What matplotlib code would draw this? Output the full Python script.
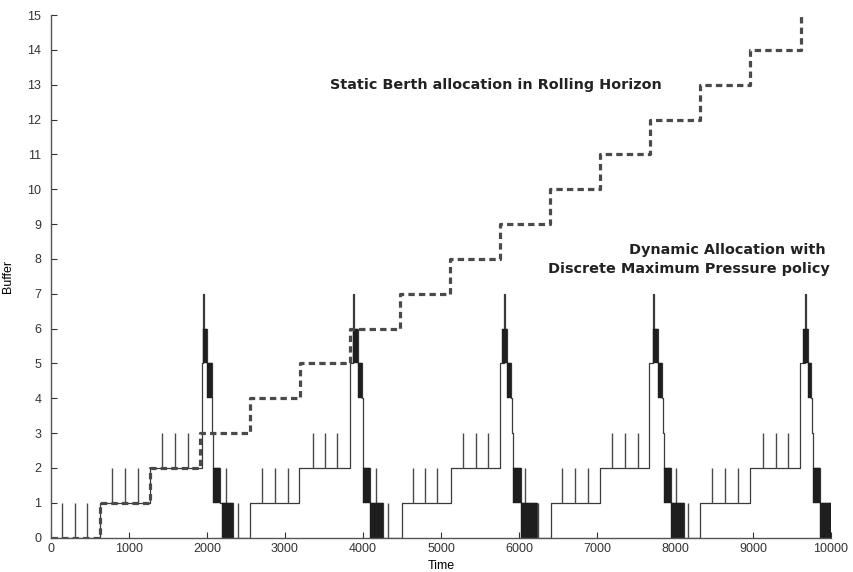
import matplotlib
matplotlib.use("Agg")
import matplotlib.pyplot as plt

# static berth allocation (rolling horizon): step times and buffer levels
static_t = [0, 628, 1269, 1910, 2551, 3192, 3833, 4474, 5122, 5756,
            6397, 7038, 7685, 8325, 8962, 9615]
static_v = [0, 1, 2, 3, 4, 5, 6, 7, 8, 9, 10, 11, 12, 13, 14, 15]

# dynamic allocation: base step line (time, level), five cycles
dyn_t = [0, 628, 1269, 1932, 1953, 1962, 1996, 2060, 2070, 2080, 2167, 2337,
         2551, 3179, 3833, 3876, 3885, 3940, 3990, 3998, 4004, 4090, 4260,
         4496, 5128, 5756, 5808, 5816, 5842, 5894, 5910, 5925, 6022, 6227,
         6406, 7038, 7671, 7722, 7730, 7778, 7829, 7845, 7858, 7945, 8115,
         8321, 8962, 9603, 9667, 9675, 9701, 9740, 9755, 9770, 9859, 10000]
dyn_v = [0, 1, 2, 5, 7, 6, 5, 4, 3, 2, 1, 0,
         1, 2, 5, 7, 6, 5, 4, 3, 2, 1, 0,
         1, 2, 5, 7, 6, 5, 4, 3, 2, 1, 0,
         1, 2, 5, 7, 6, 5, 4, 3, 2, 1, 0,
         1, 2, 5, 7, 6, 5, 4, 3, 2, 1, 0]

# short arrivals (spikes) on top of the base line
spike_t = [137, 308, 465, 778, 949, 1112, 1427, 1590, 1753, 2240, 2398,
           2701, 2872, 3035, 3363, 3513, 3671, 4167, 4324,
           4641, 4791, 4949, 5282, 5445, 5599, 6077, 6247,
           6551, 6718, 6881, 7196, 7359, 7522, 8009, 8171,
           8478, 8641, 8804, 9124, 9295, 9445]
spike_lo = [0, 0, 0, 1, 1, 1, 2, 2, 2, 0, 0,
            1, 1, 1, 2, 2, 2, 0, 0,
            1, 1, 1, 2, 2, 2, 0, 0,
            1, 1, 1, 2, 2, 2, 0, 0,
            1, 1, 1, 2, 2, 2]
spike_hi = [1, 1, 1, 2, 2, 2, 3, 3, 3, 2, 1,
            2, 2, 2, 3, 3, 3, 2, 1,
            2, 2, 2, 3, 3, 3, 2, 1,
            2, 2, 2, 3, 3, 3, 2, 1,
            2, 2, 2, 3, 3, 3]

# fast oscillation between two levels (drawn as dark blocks)
block_t0 = [1953, 1996, 2081, 2188, 3876, 3940, 4004, 4090,
            5778, 5842, 5927, 6022, 7722, 7778, 7859, 7945,
            9637, 9701, 9773, 9859]
block_t1 = [1996, 2060, 2167, 2337, 3940, 3990, 4090, 4260,
            5842, 5894, 6022, 6227, 7778, 7829, 7945, 8115,
            9701, 9740, 9859, 10000]
block_lo = [5, 4, 1, 0, 5, 4, 1, 0, 5, 4, 1, 0, 5, 4, 1, 0, 5, 4, 1, 0]

x_ticks = list(range(0, 10001, 1000))
y_ticks = list(range(0, 16))

plt.rcParams['font.family'] = ['Liberation Sans', 'DejaVu Sans']

fig = plt.figure(figsize=(8.54, 5.72), dpi=100)
ax = fig.add_axes([0.0597, 0.0601, 0.9133, 0.9136])

ax.step(dyn_t, dyn_v, where='post', color='#3a3a3a', lw=0.9, zorder=2)
ax.vlines(spike_t, spike_lo, spike_hi, color='#4a4a4a', lw=1.0, zorder=2)
widths = [b - a for a, b in zip(block_t0, block_t1)]
ax.bar(block_t0, [1] * len(block_lo), width=widths, bottom=block_lo,
       align='edge', color='#1e1e1e', edgecolor='#1e1e1e', lw=0.3, zorder=2)

ax.step(static_t, static_v, where='post', color='#4a4a4a', lw=2.3,
        linestyle=(0, (2.0, 1.3)), zorder=3)

ax.text(3580, 13.0, 'Static Berth allocation in Rolling Horizon',
        family='DejaVu Sans', fontweight='bold', fontsize=10.4,
        color='#222222', va='center')
ax.text(9930, 8.25, 'Dynamic Allocation with',
        family='DejaVu Sans', fontweight='bold', fontsize=10.4,
        color='#222222', va='center', ha='right')
ax.text(9990, 7.7, 'Discrete Maximum Pressure policy',
        family='DejaVu Sans', fontweight='bold', fontsize=10.4,
        color='#222222', va='center', ha='right')

ax.set_xlim(0, 10000)
ax.set_ylim(0, 15)
ax.set_xticks(x_ticks)
ax.set_yticks(y_ticks)
ax.tick_params(direction='in', length=4, width=0.8, labelsize=9,
               colors='#333333')
ax.tick_params(axis='y', pad=7)
ax.tick_params(axis='x', pad=4)
for side in ['top', 'right']:
    ax.spines[side].set_visible(False)
for side in ['left', 'bottom']:
    ax.spines[side].set_color('#555555')
    ax.spines[side].set_linewidth(1.0)

ax.set_xlabel('Time', fontsize=9)
ax.set_ylabel('Buffer', fontsize=9)
ax.xaxis.set_label_coords(0.5, -0.043)
ax.yaxis.set_label_coords(-0.047, 0.5)

fig.savefig('out.png', dpi=100)
